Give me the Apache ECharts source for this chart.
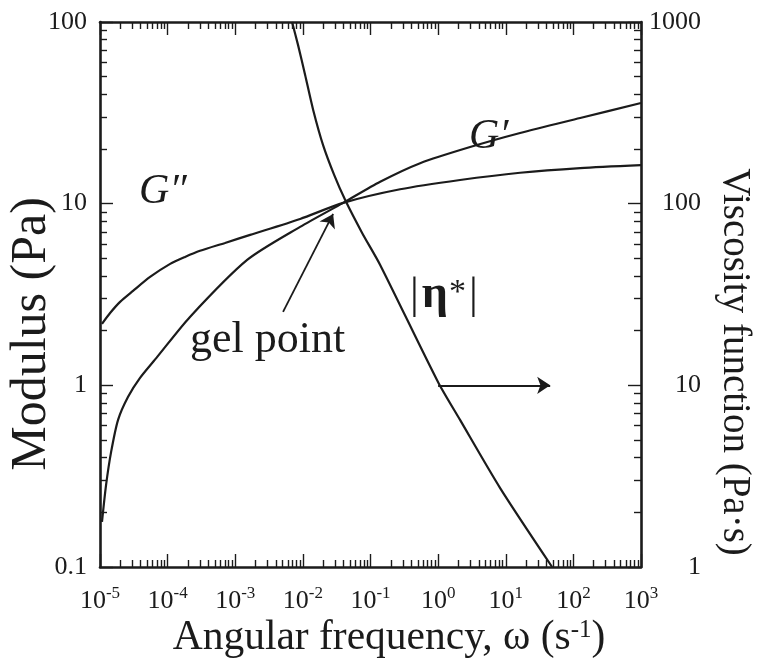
<!DOCTYPE html>
<html>
<head>
<meta charset="utf-8">
<script src="https://cdn.jsdelivr.net/npm/echarts@6/dist/echarts.min.js"></script>
<style>
  html, body { margin: 0; padding: 0; background: #fff; }
  #chart { width: 762px; height: 661px; }
</style>
</head>
<body>
<div id="chart"></div>
<script>
// Decade exponents of the frequency axis and tick texts of the modulus / viscosity axes
const freqExponents = [-5, -4, -3, -2, -1, 0, 1, 2, 3];
const modulusTickLabels = ['0.1', '1', '10', '100'];
const viscosityTickLabels = ['1', '10', '100', '1000'];

// Storage modulus G' (Pa) vs angular frequency (1/s)
const freqStorage = [1.07e-5, 1.23e-5, 1.46e-5, 1.85e-5, 2.59e-5, 3.91e-5, 6.97e-5, 2.14e-4, 1.50e-3, 9.10e-3, 0.0394, 0.139, 0.542, 2.97, 16.3, 126, 1000];
const storageModulus = [0.177, 0.283, 0.430, 0.646, 0.863, 1.10, 1.43, 2.38, 4.90, 7.45, 10.1, 13.2, 16.7, 20.5, 24.5, 29.6, 35.8];

// Loss modulus G'' (Pa)
const freqLoss = [1.07e-5, 1.41e-5, 1.98e-5, 3.08e-5, 5.50e-5, 1.09e-4, 1.81e-4, 3.01e-4, 7.06e-4, 1.66e-3, 9.10e-3, 0.0394, 0.274, 2.11, 16.3, 126, 1000];
const lossModulus = [2.18, 2.50, 2.88, 3.31, 3.95, 4.66, 5.09, 5.50, 6.08, 6.73, 8.24, 10.1, 12.0, 13.5, 14.8, 15.7, 16.3];

// Magnitude of the complex viscosity |eta*| (Pa s), right axis
const freqVisc = [6.92e-3, 8.49e-3, 0.0108, 0.0142, 0.0199, 0.0290, 0.0421, 0.0752, 0.139, 1.0, 2.11, 8.26, 48.5];
const viscosity = [1000, 746, 511, 328, 210, 144, 105, 69.0, 46.0, 10.4, 6.45, 2.72, 1.0];

// Annotation arrows, in data coordinates
const gelArrow = [[5.09e-3, 2.54], [0.028, 8.78]];
const viscArrow = [[1.0, 10.0], [45.4, 10.0]];

const FONT = 'Liberation Serif';
const INK = '#1b1b1b';

function decadeValues(lo, hi) {
  const v = [];
  for (let k = lo; k <= hi; k++) v.push(Number('1e' + k));
  return v;
}
function minorValues(lo, hi) {
  const v = [];
  for (let k = lo; k < hi; k++) for (let m = 2; m <= 9; m++) v.push(m * Number('1e' + k));
  return v;
}
function pairs(xs, ys) { return xs.map((x, i) => [x, ys[i]]); }

const xMajor = freqExponents.map(e => Number('1e' + e));
const xMinor = minorValues(-5, 3);
const gMajor = decadeValues(-1, 2);
const gMinor = minorValues(-1, 2);
const eMajor = decadeValues(0, 3);
const eMinor = minorValues(0, 3);

const tickStyle = { color: INK, width: 1.4 };
const frameStyle = { color: INK, width: 2.6 };

function xAxis(position, major, labels) {
  return {
    type: 'log', logBase: 10, min: 1e-5, max: 1e3, position: position,
    axisLine: { show: major, onZero: false, lineStyle: frameStyle },
    axisTick: { show: true, inside: true, length: major ? 13 : 7, customValues: major ? xMajor : xMinor, lineStyle: tickStyle },
    axisLabel: {
      show: labels, customValues: xMajor, margin: 15,
      formatter: v => '{b|10}{s|' + Math.round(Math.log10(v)) + '}',
      rich: {
        b: { fontFamily: FONT, fontSize: 26, color: INK, lineHeight: 32, verticalAlign: 'bottom' },
        s: { fontFamily: FONT, fontSize: 17, color: INK, lineHeight: 32, verticalAlign: 'bottom', padding: [0, 0, 12, 0] }
      }
    },
    splitLine: { show: false }
  };
}

function yAxis(position, major, labels, lo, hi, majorVals, minorVals, texts, margin) {
  return {
    type: 'log', logBase: 10, min: Number('1e' + lo), max: Number('1e' + hi), position: position,
    axisLine: { show: major, onZero: false, lineStyle: frameStyle },
    axisTick: { show: true, inside: true, length: major ? 13 : 7, customValues: major ? majorVals : minorVals, lineStyle: tickStyle },
    axisLabel: {
      show: labels, customValues: majorVals, margin: margin, align: 'right',
      fontFamily: FONT, fontSize: 26, color: INK,
      formatter: v => texts[Math.round(Math.log10(v)) - lo]
    },
    splitLine: { show: false }
  };
}

const curveStyle = { color: INK, width: 2.2 };

const chart = echarts.init(document.getElementById('chart'), null, { renderer: 'canvas' });
chart.setOption({
  backgroundColor: '#fff',
  animation: false,
  grid: { left: 100, right: 121, top: 22, bottom: 94, containLabel: false },
  xAxis: [
    xAxis('bottom', true, true),
    xAxis('bottom', false, false),
    xAxis('top', true, false),
    xAxis('top', false, false)
  ],
  yAxis: [
    yAxis('left', true, true, -1, 2, gMajor, gMinor, modulusTickLabels, 13),
    yAxis('left', false, false, -1, 2, gMajor, gMinor, modulusTickLabels, 13),
    yAxis('right', true, true, 0, 3, eMajor, eMinor, viscosityTickLabels, 60),
    yAxis('right', false, false, 0, 3, eMajor, eMinor, viscosityTickLabels, 60)
  ],
  series: [
    {
      name: "G'", type: 'line', xAxisIndex: 0, yAxisIndex: 0,
      data: pairs(freqStorage, storageModulus), smooth: 0.25, showSymbol: false,
      lineStyle: curveStyle, silent: true,
      markLine: {
        silent: true, symbol: ['none', 'arrow'], symbolSize: 13,
        label: { show: false }, lineStyle: { color: INK, width: 1.8, type: 'solid' },
        data: [[{ coord: gelArrow[0] }, { coord: gelArrow[1] }]]
      }
    },
    {
      name: "G''", type: 'line', xAxisIndex: 0, yAxisIndex: 0,
      data: pairs(freqLoss, lossModulus), smooth: 0.25, showSymbol: false,
      lineStyle: curveStyle, silent: true
    },
    {
      name: '|eta*|', type: 'line', xAxisIndex: 0, yAxisIndex: 2,
      data: pairs(freqVisc, viscosity), smooth: 0.25, showSymbol: false,
      lineStyle: curveStyle, silent: true,
      markLine: {
        silent: true, symbol: ['none', 'arrow'], symbolSize: 13,
        label: { show: false }, lineStyle: { color: INK, width: 2, type: 'solid' },
        data: [[{ coord: viscArrow[0] }, { coord: viscArrow[1] }]]
      }
    }
  ],
  graphic: [
    {
      type: 'text', x: 389, y: 636,
      style: {
        text: '{t|Angular frequency, ω (s}{s|-1}{t|)}',
        align: 'center', verticalAlign: 'middle',
        rich: {
          t: { fontFamily: FONT, fontSize: 41.5, fill: INK, lineHeight: 46, verticalAlign: 'bottom' },
          s: { fontFamily: FONT, fontSize: 25, fill: INK, lineHeight: 46, verticalAlign: 'bottom', padding: [0, 0, 16, 0] }
        }
      }
    },
    {
      type: 'text', x: 32, y: 334, rotation: Math.PI / 2,
      style: { text: 'Modulus (Pa)', font: '50px "Liberation Serif"', fill: INK, align: 'center', verticalAlign: 'middle' }
    },
    {
      type: 'text', x: 734, y: 362, rotation: -Math.PI / 2,
      style: { text: 'Viscosity function (Pa·s)', font: '39px "Liberation Serif"', fill: INK, align: 'center', verticalAlign: 'middle' }
    },
    {
      type: 'text', x: 190, y: 340,
      style: { text: 'gel point', font: '44px "Liberation Serif"', fill: INK, align: 'left', verticalAlign: 'middle' }
    },
    {
      type: 'text', x: 469, y: 137,
      style: { text: 'G′', font: 'italic 42px "Liberation Serif"', fill: INK, align: 'left', verticalAlign: 'middle' }
    },
    {
      type: 'text', x: 139, y: 192,
      style: { text: 'G″', font: 'italic 42px "Liberation Serif"', fill: INK, align: 'left', verticalAlign: 'middle' }
    },
    {
      type: 'text', x: 410, y: 293,
      style: {
        text: '{p||}{e|η}{a|*}{p||}',
        align: 'left', verticalAlign: 'middle',
        rich: {
          p: { fontFamily: FONT, fontSize: 44, fill: INK, lineHeight: 50, verticalAlign: 'bottom' },
          e: { fontFamily: FONT, fontSize: 46, fontWeight: 'bold', fill: INK, lineHeight: 50, verticalAlign: 'bottom', padding: [0, 1, 0, 3] },
          a: { fontFamily: FONT, fontSize: 34, fill: INK, lineHeight: 50, verticalAlign: 'bottom', padding: [0, 3, 8, 0] }
        }
      }
    }
  ]
});
</script>
</body>
</html>
